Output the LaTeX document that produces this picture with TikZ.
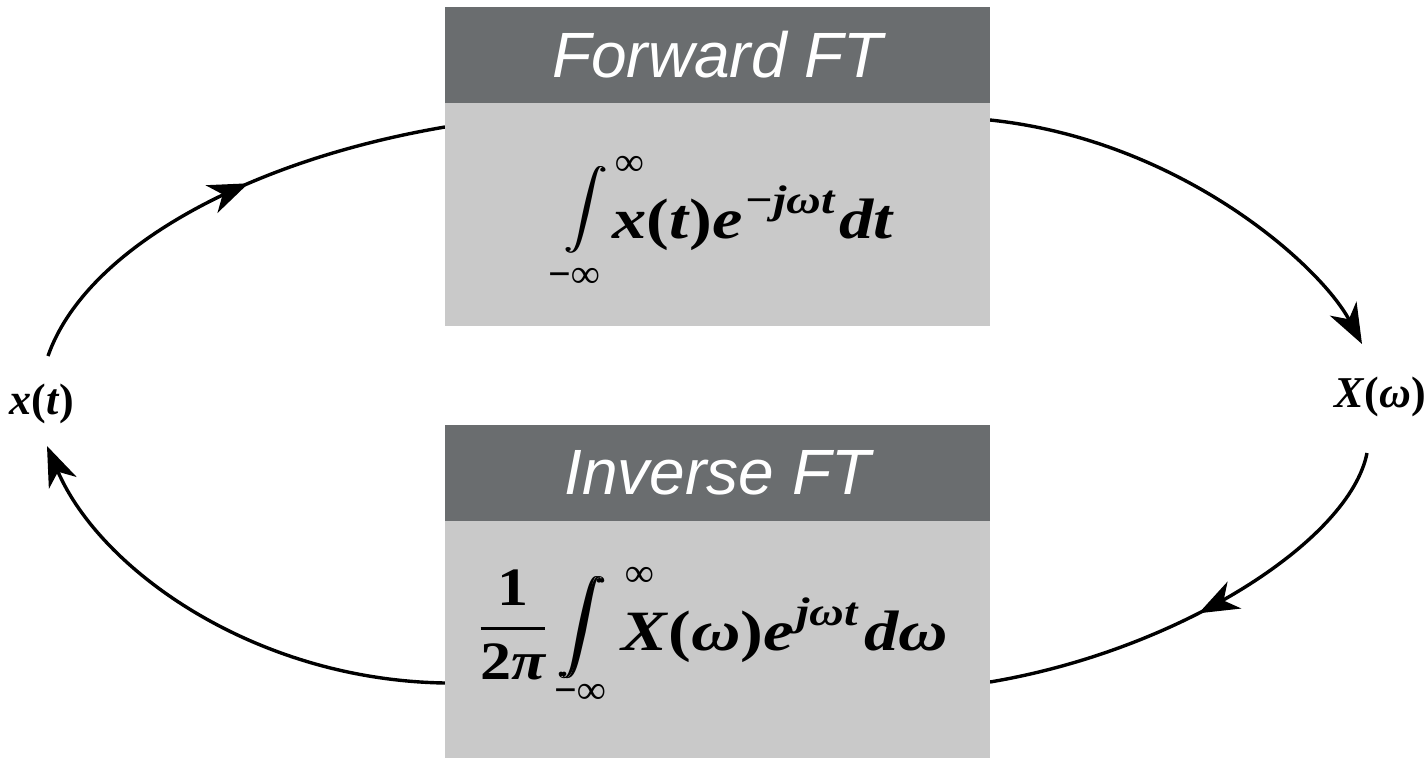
\RequirePackage{fix-cm}
\documentclass[tikz,border=0pt]{standalone}
\usepackage{amsmath}
\usepackage{graphicx}
\usepackage{fontspec}
\usetikzlibrary{arrows.meta,decorations.markings}
\newfontfamily\hdrfont{Liberation Sans}
\newfontfamily\tnr{Liberation Serif}
\definecolor{hdrgray}{HTML}{6A6D6F}
\definecolor{bodygray}{HTML}{C9C9C9}
\newcommand{\tb}[1]{\text{\tnr\bfseries\itshape #1}}
\newcommand{\tbu}[1]{\text{\tnr\bfseries #1}}
\newcommand{\supr}[1]{\raisebox{25pt}{\fontsize{40}{44}\selectfont #1}}
\newcommand{\fatint}{\rlap{$\displaystyle\int$}\kern0.45pt$\displaystyle\int$}
\begin{document}
\begin{tikzpicture}[x=1pt,y=-1pt,
  hdr/.style={fill=hdrgray, text=white, inner sep=0pt, minimum width=545pt, minimum height=96pt,
    font=\hdrfont\itshape\fontsize{64}{72}\selectfont},
  bodybox/.style={fill=bodygray, inner sep=0pt, minimum width=545pt},
  conn/.style={line width=3.4pt, black},
  tip/.style={-{Stealth[length=40pt,width=30pt,inset=12pt]}},
  midtip/.style={postaction={decorate}, decoration={markings,
    mark=at position #1 with {\arrow{Stealth[length=40pt,width=30pt,inset=12pt]}}}},
  lbl/.style={inner sep=0pt, font=\tnr\bfseries\itshape\fontsize{44}{48}\selectfont},
  mt/.style={inner sep=0pt, font=\tnr\bfseries\itshape\fontsize{57}{60}\selectfont},
  lim/.style={inner sep=0pt, font=\tnr\bfseries\fontsize{40}{44}\selectfont},
  intsign/.style={inner sep=0pt}
]
\useasboundingbox (0,0) rectangle (1428,758);
\fill[white] (0,0) rectangle (1428,758);

% signal labels
\node[lbl, anchor=base] (xt) at (42,414) {x\textup{(}t\textup{)}};
\node[lbl, anchor=base] (Xw) at (1380,407) {X\textup{(}ω\textup{)}};

% connector end points
\coordinate (xtTop) at (48,356);
\coordinate (xtBot) at (47,446);
\coordinate (XwTop) at (1362,344);
\coordinate (XwBot) at (1367,453);
\coordinate (fL) at (445,127);
\coordinate (fR) at (990,120);
\coordinate (iL) at (445,683);
\coordinate (iR) at (990,682);

% connectors
\draw[conn, midtip=0.57] (xtTop) .. controls (85,250) and (245,161) .. (fL);
\draw[conn, tip] (fR) .. controls (1180,140) and (1320,265) .. (XwTop);
\draw[conn, midtip=0.52] (XwBot) .. controls (1350,540) and (1180,650) .. (iR);
\draw[conn, tip] (iL) .. controls (255,680) and (100,570) .. (xtBot);

% forward box
\node[hdr] (fwdh) at (717.5,55) {Forward FT};
\node[bodybox, minimum height=223pt] (fwdb) at (717.5,214.5) {};
\node[intsign] (fint) at (586,210) {\scalebox{4.4}[3.9]{\fatint}};
\node[lim] (fup) at (630,166) {∞};
\node[lim] (flo) at (574,278) {−∞};
\node[mt, anchor=base west] (fwdeq) at (612,238)
  {\scalebox{1.2}[1]{x\textup{(}t\textup{)}e\kern1pt\supr{−jωt}\kern4pt dt}};

% inverse box
\node[hdr] (invh) at (717.5,473) {Inverse FT};
\node[bodybox, minimum height=237pt] (invb) at (717.5,639.5) {};
\node[inner sep=0pt] (ifrac) at (513,625)
  {\fontsize{54}{60}\selectfont\scalebox{1.15}[1]{$\displaystyle\genfrac{}{}{3pt}{0}{\tbu{1}}{\tbu{2}\tb{π}}$}};
\node[intsign] (iint) at (582,628) {\scalebox{4.8}[4.6]{\fatint}};
\node[lim] (iup) at (640,577) {∞};
\node[lim] (ilo) at (580,694) {−∞};
\node[mt, anchor=base west] (inveq) at (621,650)
  {\scalebox{1.2}[1]{X\textup{(}ω\textup{)}e\kern2pt\supr{jωt}\kern6pt dω}};
\end{tikzpicture}
\end{document}
